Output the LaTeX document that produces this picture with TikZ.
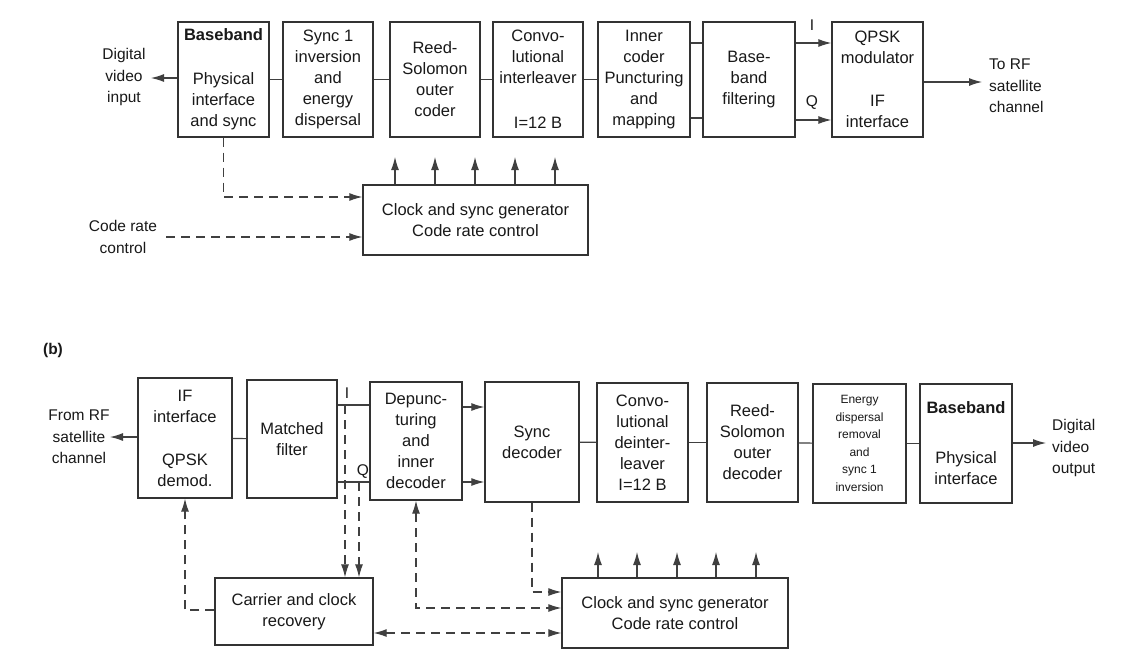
\documentclass[tikz,border=0pt]{standalone}
\usepackage{fontspec}
\setmainfont{Liberation Sans}
\usetikzlibrary{arrows.meta,calc}
\begin{document}
\begin{tikzpicture}[x=1pt,y=-1pt,
  blk/.style={draw=black!80, line width=1.4pt, fill=white, align=center, inner sep=0pt,
    font=\fontsize{16.5}{21}\selectfont, text=black!90},
  small/.style={font=\fontsize{12}{17.5}\selectfont},
  lbl/.style={align=center, inner sep=0pt, font=\fontsize{15.5}{21.5}\selectfont, text=black!90},
  con/.style={draw=black!75, line width=1.1pt},
  arr/.style={con, -{Latex[length=13pt,width=8pt]}},
  darr/.style={con, {Latex[length=13pt,width=8pt]}-{Latex[length=13pt,width=8pt]}},
  dsh/.style={dash pattern=on 9pt off 6pt}]
\useasboundingbox (0,0) rectangle (1137,657);
\fill[white] (0,0) rectangle (1137,657);

% ---------- (a) top chain ----------
\node[blk, minimum width=91, minimum height=115] (A1) at (223.5,79.5) {\textbf{Baseband}\\[23pt]Physical\\interface\\and sync};
\node[blk, minimum width=90, minimum height=115] (A2) at (328,79.5) {Sync 1\\inversion\\and\\energy\\dispersal};
\node[blk, minimum width=90, minimum height=115] (A3) at (435,79.5) {Reed-\\Solomon\\outer\\coder};
\node[blk, minimum width=90, minimum height=115] (A4) at (538,79.5) {Convo-\\lutional\\interleaver\\[24pt]I=12 B};
\node[blk, minimum width=92, minimum height=115] (A5) at (644,79.5) {Inner\\coder\\Puncturing\\and\\mapping};
\node[blk, minimum width=92, minimum height=115] (A6) at (749,79.5) {Base-\\band\\filtering};
\node[blk, minimum width=91, minimum height=115] (A7) at (877.5,79.5) {QPSK\\modulator\\[22pt]IF\\interface};

\node[lbl] (din) at (124,77) {Digital\\video\\input};
\coordinate (dinT) at (151,78);
\node[lbl, align=left, anchor=west] (torf) at (989,86) {To RF\\satellite\\channel};
\coordinate (outA) at (982,82);

\draw[arr] (A1.west |- 0,78) -- (dinT);
\draw[con] (A1) -- (A2);
\draw[con] (A2) -- (A3);
\draw[con] (A3) -- (A4);
\draw[con] (A4) -- (A5);
\draw[con] (A5.east |- 0,43) -- (A6.west |- 0,43);
\draw[con] (A5.east |- 0,118) -- (A6.west |- 0,118);
\draw[arr] (A6.east |- 0,43) -- (A7.west |- 0,43);
\draw[arr] (A6.east |- 0,120) -- (A7.west |- 0,120);
\node[lbl] (Ia) at (812,25) {I};
\node[lbl] (Qa) at (812,103) {Q};
\draw[arr] (A7.east |- 0,82) -- (outA);

% clock (a)
\node[blk, minimum width=225, minimum height=70] (C1) at (475.5,220) {Clock and sync generator\\Code rate control};
\foreach \x [count=\i] in {395,435,475,515,555}{
  \coordinate (ua\i) at (\x,157);
  \draw[arr] (C1.north -| ua\i) -- (ua\i);
}
\draw[arr,dsh] (A1.south) |- (C1.west |- 0,197);
\node[lbl] (crc) at (123,237) {Code rate\\control};
\coordinate (crcE) at (166,237);
\draw[arr,dsh] (crcE) -- (C1.west |- crcE);

% ---------- (b) ----------
\node[lbl, font=\fontsize{15.5}{20}\selectfont\bfseries] (blab) at (53,350) {(b)};

\node[blk, minimum width=94, minimum height=120] (B1) at (185,438) {IF\\interface\\[22pt]QPSK\\demod.};
\node[blk, minimum width=90, minimum height=118] (B2) at (292,439) {Matched\\filter};
\node[blk, minimum width=92, minimum height=118] (B3) at (416,441) {Depunc-\\turing\\and\\inner\\decoder};
\node[blk, minimum width=94, minimum height=120] (B4) at (532,442) {Sync\\decoder};
\node[blk, minimum width=91, minimum height=119] (B5) at (642.5,442.5) {Convo-\\lutional\\deinter-\\leaver\\I=12 B};
\node[blk, minimum width=91, minimum height=119] (B6) at (752.5,442.5) {Reed-\\Solomon\\outer\\decoder};
\node[blk, small, minimum width=93, minimum height=119] (B7) at (859.5,443.5) {Energy\\dispersal\\removal\\and\\sync 1\\inversion};
\node[blk, minimum width=92, minimum height=119] (B8) at (966,443.5) {\textbf{Baseband}\\[29pt]Physical\\interface};

\node[lbl] (frf) at (79,437) {From RF\\satellite\\channel};
\coordinate (frfT) at (110,437);
\node[lbl, align=left, anchor=west] (dvo) at (1052,448) {Digital\\video\\output};
\coordinate (outB) at (1046,443);

\draw[arr] (B1.west |- frfT) -- (frfT);
\draw[con] (B1) -- (B2);
\draw[con] (B2.east |- 0,405) -- (B3.west |- 0,405);
\draw[con] (B2.east |- 0,482) -- (B3.west |- 0,482);
\node[lbl] (Ib) at (347,393) {I};
\node[lbl] (Qb) at (363,472) {Q};
\draw[arr] (B3.east |- 0,407) -- (B4.west |- 0,407);
\draw[arr] (B3.east |- 0,482) -- (B4.west |- 0,482);
\draw[con] (B4) -- (B5);
\draw[con] (B5) -- (B6);
\draw[con] (B6) -- (B7);
\draw[con] (B7) -- (B8);
\draw[arr] (B8.east |- outB) -- (outB);

\node[blk, minimum width=158, minimum height=67] (K) at (294,611.5) {Carrier and clock\\recovery};
\node[blk, minimum width=226, minimum height=70] (C2) at (675,613) {Clock and sync generator\\Code rate control};
\foreach \x [count=\i] in {598,637,677,716,756}{
  \coordinate (ub\i) at (\x,552);
  \draw[arr] (C2.north -| ub\i) -- (ub\i);
}
\coordinate (iq1) at (345,405);
\coordinate (iq2) at (359,482);
\draw[arr,dsh] (iq1) -- (K.north -| iq1);
\draw[arr,dsh] (iq2) -- (K.north -| iq2);
\draw[arr,dsh] (K.west |- 0,610) -| (B1.south);
\draw[darr,dsh] (B3.south) |- (C2.west |- 0,608);
\draw[arr,dsh] (B4.south) |- (C2.west |- 0,592);
\draw[darr,dsh] (K.east |- 0,633) -- (C2.west |- 0,633);
\end{tikzpicture}
\end{document}
